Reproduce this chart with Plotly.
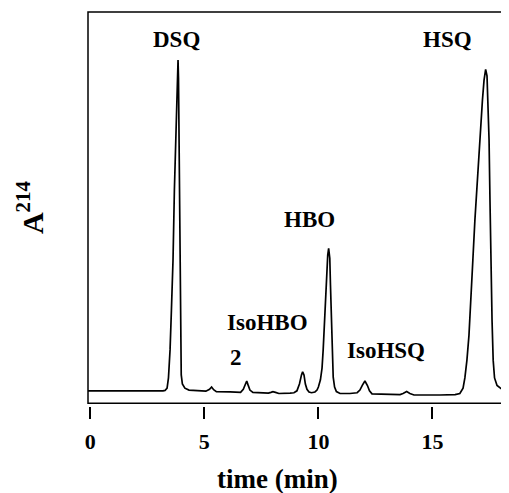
import plotly.graph_objects as go

# Chromatogram trace (time in min, absorbance in arbitrary units)
time_min = [
    -0.10, 1.31, 2.62, 3.19,
    3.28, 3.37, 3.43, 3.50, 3.56, 3.63, 3.69, 3.76, 3.82, 3.85, 3.87, 3.90, 3.93, 3.95, 3.99, 4.04, 4.15, 4.33, 4.64,
    5.07, 5.23, 5.32, 5.41, 5.53, 6.13,
    6.59, 6.71, 6.80, 6.86, 6.91, 7.00, 7.13, 7.53,
    7.81, 7.92, 8.01, 8.12, 8.27, 8.76,
    8.93, 9.06, 9.17, 9.26, 9.31, 9.37, 9.43, 9.50, 9.59, 9.70,
    9.85, 9.94, 10.00, 10.09, 10.16, 10.21, 10.26, 10.30, 10.35, 10.41, 10.45, 10.50, 10.53, 10.57, 10.61, 10.65,
    10.71, 10.79, 10.95, 11.38,
    11.70, 11.82, 11.93, 12.04, 12.15, 12.24, 12.35, 12.92, 13.58,
    13.71, 13.87, 14.01, 14.19, 15.33, 15.99,
    16.20, 16.34, 16.42, 16.51, 16.60, 16.69, 16.77, 16.86, 16.95, 17.04, 17.13, 17.19, 17.26, 17.33, 17.39, 17.43,
    17.48, 17.52, 17.56, 17.61, 17.66, 17.72, 17.83, 18.00, 18.31,
]
absorbance = [
    0.011, 0.011, 0.010, 0.011,
    0.012, 0.018, 0.045, 0.119, 0.224, 0.356, 0.541, 0.726, 0.852, 0.884, 0.836, 0.620, 0.356, 0.145, 0.053, 0.029, 0.018, 0.013, 0.011,
    0.010, 0.015, 0.021, 0.014, 0.009, 0.008,
    0.007, 0.015, 0.029, 0.037, 0.028, 0.013, 0.007, 0.005,
    0.005, 0.007, 0.009, 0.007, 0.004, 0.005,
    0.006, 0.011, 0.029, 0.053, 0.061, 0.053, 0.029, 0.015, 0.008, 0.006,
    0.008, 0.013, 0.021, 0.040, 0.071, 0.119, 0.185, 0.251, 0.317, 0.369, 0.387, 0.361, 0.290, 0.211, 0.119, 0.047,
    0.021, 0.009, 0.004, 0.004,
    0.006, 0.013, 0.026, 0.037, 0.025, 0.011, 0.003, 0.002, 0.001,
    0.004, 0.009, 0.004, 0.000, 0.000, 0.001,
    0.004, 0.018, 0.045, 0.092, 0.158, 0.251, 0.356, 0.462, 0.554, 0.633, 0.712, 0.778, 0.831, 0.859, 0.842, 0.786,
    0.673, 0.515, 0.356, 0.198, 0.092, 0.045, 0.025, 0.017, 0.013,
]

# Peak labels (text, time, absorbance position)
label_text = ["DSQ", "HSQ", "HBO", "IsoHBO", "2", "IsoHSQ"]
label_time = [3.80, 15.68, 9.63, 7.79, 6.39, 12.96]
label_abs = [0.937, 0.939, 0.464, 0.191, 0.098, 0.117]

x_ticks = [0, 5, 10, 15]
x_range = [-0.096, 18.31]
y_range = [-0.0219, 1.0106]

FONT = "Liberation Serif, Times New Roman, serif"

fig = go.Figure()
fig.add_trace(go.Scatter(
    x=time_min, y=absorbance, mode="lines",
    line=dict(color="black", width=1.7), showlegend=False, hoverinfo="skip",
))

for txt, tx, ty in zip(label_text, label_time, label_abs):
    fig.add_annotation(x=tx, y=ty, xref="x", yref="y", text="<b>%s</b>" % txt,
                       showarrow=False, xanchor="center", yanchor="middle",
                       font=dict(family=FONT, size=23, color="black"))

# axis titles
fig.add_annotation(x=0.45, y=-0.185, xref="paper", yref="paper", text="<b>time (min)</b>",
                   showarrow=False, xanchor="center", yanchor="middle",
                   font=dict(family=FONT, size=27, color="black"))
fig.add_annotation(x=-0.138, y=0.505, xref="paper", yref="paper", text="<b>A<sup>214</sup></b>",
                   textangle=-90, showarrow=False, xanchor="center", yanchor="middle",
                   font=dict(family=FONT, size=30, color="black"))

# frame
fig.add_shape(type="rect", xref="x domain", yref="y domain", x0=0, x1=1, y0=0, y1=1,
              line=dict(color="black", width=1.5))

# the page body adds an 8px margin, so the figure is drawn 8px smaller and shifted
fig.update_layout(
    width=501, height=485,
    margin=dict(l=80, r=1, t=4, b=87),
    paper_bgcolor="white", plot_bgcolor="white",
    xaxis=dict(range=x_range, tickvals=x_ticks, ticktext=[str(v) for v in x_ticks],
               showgrid=False, zeroline=False, showline=False,
               ticks="outside", ticklen=12, tickwidth=1.5, tickcolor="black",
               anchor="free", position=0, ticklabelstandoff=4,
               tickfont=dict(family=FONT, size=22, color="black", weight="bold")),
    yaxis=dict(range=y_range, domain=[0.00685, 1], showgrid=False, zeroline=False,
               showline=False, showticklabels=False, ticks=""),
)

fig.write_html("out.html")
